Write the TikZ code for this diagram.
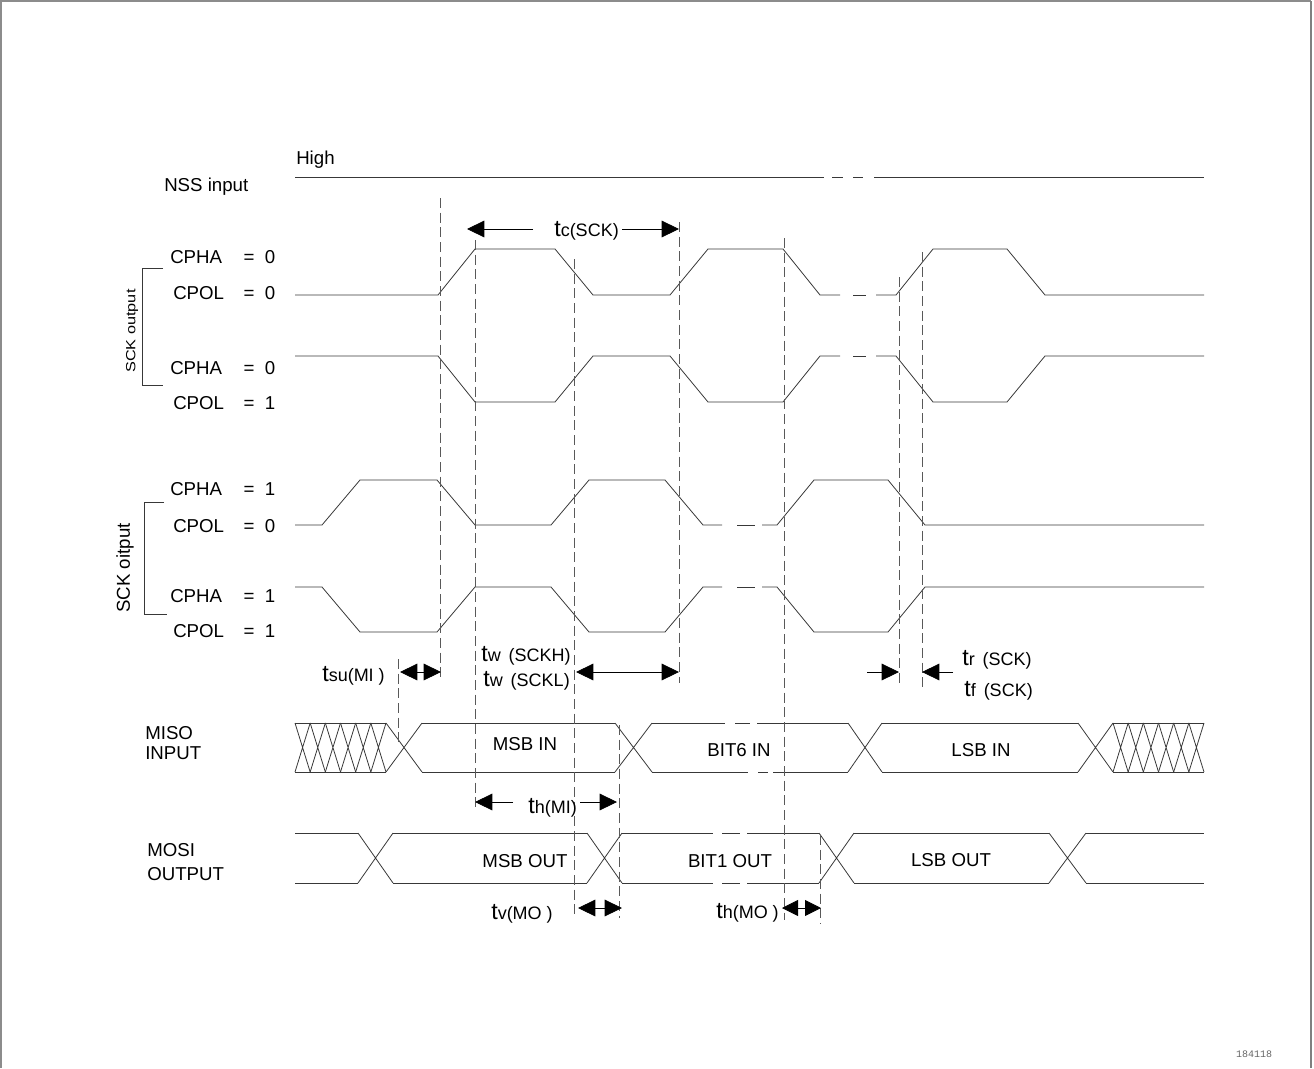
\documentclass[tikz,border=0pt]{standalone}
\usepackage{fontspec}
\setmainfont{Liberation Sans}
\newfontfamily\codefont{Liberation Mono}
\usetikzlibrary{arrows.meta}
\newcommand\tlab[1]{{\fontsize{17.5}{17}\selectfont t}{\fontsize{13.5}{13}\selectfont #1}}
\begin{document}
\begin{tikzpicture}[x=0.75pt,y=-0.75pt,
  sig/.style={draw=black!78, line width=0.6pt},
  guide/.style={draw=black!65, line width=0.55pt, dash pattern=on 7.5pt off 3.5pt},
  lab/.style={font=\fontsize{14}{16}\selectfont, inner sep=0pt, anchor=west, text height=10pt, text depth=0pt},
  clab/.style={font=\fontsize{14}{16}\selectfont, inner sep=0pt, text height=10pt, text depth=0pt},
  tlabel/.style={inner sep=0pt, anchor=west, text height=11pt, text depth=0pt},
  onetip/.style={-{Triangle[length=13pt,width=12.5pt]}, line width=0.6pt, draw=black},
  twotip/.style={{Triangle[length=13pt,width=12.5pt]}-{Triangle[length=13pt,width=12.5pt]}, line width=0.6pt, draw=black},
  smalltwotip/.style={{Triangle[length=12pt,width=12pt]}-{Triangle[length=12pt,width=12pt]}, line width=0.6pt, draw=black}]
\useasboundingbox (0,0) rectangle (1314,1068);
% frame
\draw[black!45, line width=0.8pt] (1,1068) -- (1,1) -- (1311,1);
\draw[black!50, line width=2pt] (1311,1) -- (1311,1068);
\node[font=\codefont\fontsize{7.5}{9}\selectfont, text=black!60, inner sep=0pt] (code) at (1254,1054) {184118};

% labels
\node[lab] (high) at (296,158) {High};
\node[lab] (nss) at (164,185) {NSS input};
\foreach \n/\x/\y/\nm in {a/170/257/CPHA, b/173/293/CPOL, c/170/368/CPHA, d/173/403/CPOL, e/170/489/CPHA, f/173/526/CPOL, g/170/596/CPHA, h/173/631/CPOL}{
  \node[lab] (lab\n) at (\x,\y) {\nm};
}
\foreach \n/\y/\v in {a/257/0, b/293/0, c/368/0, d/403/1, e/489/1, f/526/0, g/596/1, h/631/1}{
  \node[clab] (eq\n) at (249,\y) {=};
  \node[clab] (val\n) at (270,\y) {\v};
}
\node[rotate=90, inner sep=0pt] (sckout) at (132,331) {\scalebox{1.22}[1]{\fontsize{10}{12}\selectfont SCK output}};
\node[rotate=90, inner sep=0pt, font=\fontsize{14}{16}\selectfont] (sckoit) at (125,568) {SCK oitput};
\node[lab] (miso1) at (145,733) {MISO};
\node[lab] (miso2) at (145,753) {INPUT};
\node[lab] (mosi1) at (147,850) {MOSI};
\node[lab] (mosi2) at (147,874) {OUTPUT};

% brackets
\draw[sig] (163,268) -- (142,268) -- (142,385) -- (163,385);
\draw[sig] (164,502) -- (144,502) -- (144,614) -- (167,614);

% NSS
\draw[sig] (295,177) -- (824,177) (832,177) -- (843,177) (853,177) -- (863,177) (874,177) -- (1204,177);

% Row 1: CPHA=0 CPOL=0
\draw[sig] (295,295) -- (438,295) -- (475,249) -- (555,249) -- (593,295) -- (670,295) -- (708,249) -- (783,249) -- (820,295) -- (840,295);
\draw[sig] (853,295) -- (866,295);
\draw[sig] (876,295) -- (896,295) -- (933,249) -- (1007,249) -- (1045,295) -- (1204,295);
% Row 2: CPHA=0 CPOL=1
\draw[sig] (295,356) -- (438,356) -- (475,402) -- (555,402) -- (593,356) -- (670,356) -- (708,402) -- (783,402) -- (820,356) -- (840,356);
\draw[sig] (853,356) -- (866,356);
\draw[sig] (876,356) -- (896,356) -- (933,402) -- (1007,402) -- (1045,356) -- (1204,356);
% Row 3: CPHA=1 CPOL=0
\draw[sig] (295,525) -- (322,525) -- (360,480) -- (437,480) -- (475,525) -- (551,525) -- (589,480) -- (665,480) -- (703,525) -- (722,525);
\draw[sig] (737,525) -- (755,525);
\draw[sig] (762,525) -- (777,525) -- (814,480) -- (888,480) -- (925,525) -- (1204,525);
% Row 4: CPHA=1 CPOL=1
\draw[sig] (295,587) -- (322,587) -- (360,632) -- (437,632) -- (475,587) -- (551,587) -- (589,632) -- (665,632) -- (703,587) -- (722,587);
\draw[sig] (737,587) -- (755,587);
\draw[sig] (762,587) -- (777,587) -- (814,632) -- (888,632) -- (925,587) -- (1204,587);

% MISO bus
\def\mt{723}\def\mb{772}
\foreach \xa/\xb in {295/386, 1113/1204}{
  \draw[sig] (\xa,\mt) -- (\xb,\mt) (\xa,\mb) -- (\xb,\mb);
  \foreach \k in {0,...,5}{
    \draw[sig] ({\xa+\k*(\xb-\xa)/6},\mt) -- ({\xa+(\k+1)*(\xb-\xa)/6},\mb)
               ({\xa+\k*(\xb-\xa)/6},\mb) -- ({\xa+(\k+1)*(\xb-\xa)/6},\mt);
  }
}
\foreach \xa/\xb in {386/422, 615/652, 848/882, 1078/1113}{
  \draw[sig] (\xa,\mt) -- (\xb,\mb) (\xa,\mb) -- (\xb,\mt);
}
\draw[sig] (422,\mt) -- (615,\mt) (422,\mb) -- (615,\mb);
\draw[sig] (652,\mt) -- (725,\mt) (735,\mt) -- (750,\mt) (757,\mt) -- (848,\mt);
\draw[sig] (652,\mb) -- (748,\mb) (758,\mb) -- (768,\mb) (773,\mb) -- (848,\mb);
\draw[sig] (882,\mt) -- (1078,\mt) (882,\mb) -- (1078,\mb);
\node[clab] (msbin) at (525,744) {MSB IN};
\node[clab] (bit6) at (739,750) {BIT6 IN};
\node[clab] (lsbin) at (981,750) {LSB IN};

% MOSI bus
\def\ot{833}\def\ob{883}
\foreach \xa/\xb in {358/393, 587/622, 819/854, 1049/1086}{
  \draw[sig] (\xa,\ot) -- (\xb,\ob) (\xa,\ob) -- (\xb,\ot);
}
\draw[sig] (295,\ot) -- (358,\ot) (295,\ob) -- (358,\ob);
\draw[sig] (393,\ot) -- (587,\ot) (393,\ob) -- (587,\ob);
\draw[sig] (622,\ot) -- (713,\ot) (722,\ot) -- (740,\ot) (747,\ot) -- (819,\ot);
\draw[sig] (622,\ob) -- (713,\ob) (722,\ob) -- (740,\ob) (747,\ob) -- (819,\ob);
\draw[sig] (854,\ot) -- (1049,\ot) (854,\ob) -- (1049,\ob);
\draw[sig] (1086,\ot) -- (1204,\ot) (1086,\ob) -- (1204,\ob);
\node[clab] (msbout) at (525,861) {MSB OUT};
\node[clab] (bit1) at (730,861) {BIT1 OUT};
\node[clab] (lsbout) at (951,860) {LSB OUT};

% dashed guides
\foreach \x/\ya/\yb in {440/198/678, 475/240/808, 574/259/915, 619/725/918, 679/222/683, 784/238/920, 820/835/924, 899/277/686, 922/252/688, 398/659/742}{
  \draw[guide] (\x,\ya) -- (\x,\yb);
}

% timing annotations
\coordinate (tcA) at (533,229); \coordinate (tcL) at (467,229);
\coordinate (tcB) at (622,229); \coordinate (tcR) at (679,229);
\draw[onetip] (tcA) -- (tcL);
\draw[onetip] (tcB) -- (tcR);
\node[tlabel] (tc) at (554,229) {\tlab{c(SCK)}};

\coordinate (suL) at (400,672); \coordinate (suR) at (441,672);
\draw[twotip] (suL) -- (suR);
\node[tlabel] (tsu) at (322,674) {\tlab{su(MI )}};

\coordinate (twL) at (576,672); \coordinate (twR) at (679,672);
\draw[twotip] (twL) -- (twR);
\node[tlabel] (twh) at (481,654) {\tlab{w\hspace{6pt}(SCKH)}};
\node[tlabel] (twl) at (483,679) {\tlab{w\hspace{6pt}(SCKL)}};

\coordinate (trA) at (867,672); \coordinate (trL) at (899,672);
\coordinate (trB) at (953,672); \coordinate (trR) at (922,672);
\draw[onetip] (trA) -- (trL);
\draw[onetip] (trB) -- (trR);
\node[tlabel] (tr) at (962,658) {\tlab{r\hspace{6pt}(SCK)}};
\node[tlabel] (tf) at (964,689) {\tlab{f\hspace{6pt}(SCK)}};

\coordinate (hmA) at (513,802); \coordinate (hmL) at (475,802);
\coordinate (hmB) at (580,802); \coordinate (hmR) at (617,802);
\draw[onetip] (hmA) -- (hmL);
\draw[onetip] (hmB) -- (hmR);
\node[tlabel] (thmi) at (528,806) {\tlab{h(MI)}};

\coordinate (tvL) at (578,908); \coordinate (tvR) at (622,908);
\draw[twotip] (tvL) -- (tvR);
\node[tlabel] (tv) at (491,912) {\tlab{v(MO )}};

\coordinate (thoL) at (782,908); \coordinate (thoR) at (821,908);
\draw[smalltwotip] (thoL) -- (thoR);
\node[tlabel] (thmo) at (716,911) {\tlab{h(MO )}};
\end{tikzpicture}
\end{document}
